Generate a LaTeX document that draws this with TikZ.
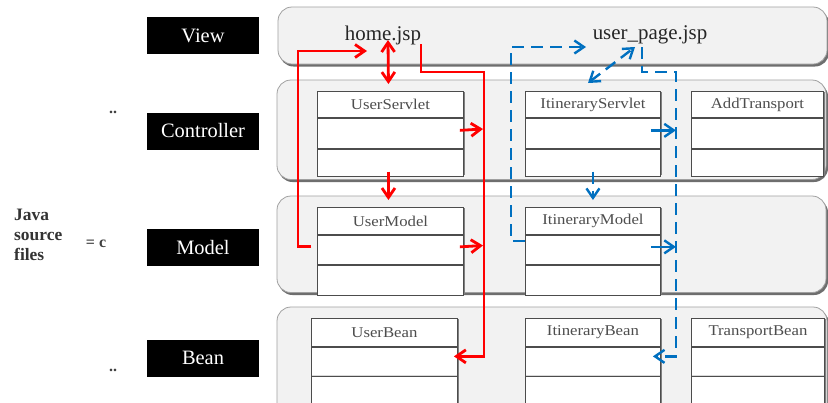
\documentclass[tikz,border=0pt]{standalone}
\usepackage{fontspec}
\setmainfont{Liberation Serif}
\newfontfamily\clsfont[FakeStretch=1.12]{Liberation Serif}
\usetikzlibrary{arrows.meta}
\definecolor{pbg}{HTML}{F2F2F2}
\definecolor{pshadow}{HTML}{6E6E6E}
\definecolor{pborder}{HTML}{A0A0A0}
\definecolor{blu}{HTML}{0070C0}
\definecolor{rd}{HTML}{FF0000}
\definecolor{clstext}{HTML}{4D4D4D}
\newcommand\clsbox[8]{%
  \fill[black!50] (#2+1.6,#3+1.2) rectangle ++(#4,#5+#6+#7);
  \node[cell, minimum width=#4bp, minimum height=#5bp] (#1T) at (#2,#3) {#8};
  \node[cell, minimum width=#4bp, minimum height=#6bp] (#1M) at (#1T.south west) {};
  \node[cell, minimum width=#4bp, minimum height=#7bp] (#1B) at (#1M.south west) {};
}
\begin{document}
\begin{tikzpicture}[x=1bp,y=-1bp,
  >={Straight Barb[length=9.5bp,width=13bp]},
  panel/.style={fill=pbg, draw=pborder, line width=0.8bp, rounded corners=14bp},
  pshad/.style={fill=pshadow, rounded corners=14bp},
  lbl/.style={fill=black, text=white, minimum width=112bp, minimum height=37bp, inner sep=0pt, font=\fontsize{20.5}{23}\selectfont},
  cell/.style={draw=black!70, fill=white, line width=0.9bp, anchor=north west, inner sep=0pt, text=clstext, font=\clsfont\fontsize{15}{17}\selectfont},
  jsp/.style={inner sep=1bp, text=black!85, font=\fontsize{21}{24}\selectfont},
  side/.style={inner sep=0pt, text=black!75, font=\bfseries\fontsize{16}{18}\selectfont},
  redline/.style={draw=rd, line width=2.8bp},
  blueline/.style={draw=blu, line width=2.4bp, dash pattern=on 12bp off 7bp},
]
\useasboundingbox (0,0) rectangle (828,402);
\clip (0,0) rectangle (828,402);
\fill[white] (0,0) rectangle (828,402);

% layer panels
\fill[pshad] (279.5,9.5) rectangle (829,66.5);
\draw[panel] (278,7) rectangle (827,64);
\fill[pshad] (278.5,82.5) rectangle (828,182);
\draw[panel] (277,80) rectangle (826,179.5);
\fill[pshad] (278.5,198.5) rectangle (828,295);
\draw[panel] (277,196) rectangle (826,292.5);
\fill[pshad] (278.5,309.5) rectangle (829,425);
\draw[panel] (277,307) rectangle (827,422);

% left labels
\node[lbl] (vL) at (203,35.5) {View};
\node[lbl] (cL) at (203,131) {Controller};
\node[lbl] (mL) at (203,247.5) {Model};
\node[lbl] (bL) at (203,358) {Bean};
\node[anchor=north west, inner sep=0pt, align=left, text=black!80,
      font=\bfseries\fontsize{17.5}{20}\selectfont] (java) at (14,209) {Java\\source\\files};
\node[side] (eqc) at (96,244) {= c};
\node[side] (dots1) at (113,112) {..};
\node[side] (dots2) at (113,370) {..};

% view texts
\node[jsp] (home) at (383,35) {home.jsp};
\node[jsp] (upage) at (650,35) {user\_page.jsp};

% class boxes
\clsbox{us}{317}{91}{146}{26}{30}{27}{UserServlet}
\clsbox{is}{525}{91}{135}{26}{30}{27}{ItineraryServlet}
\clsbox{at}{691}{91}{132}{26}{30}{27}{AddTransport}
\clsbox{um}{317}{207}{146}{27}{29}{30}{UserModel}
\clsbox{im}{525}{207}{135}{27}{29}{30}{ItineraryModel}
\clsbox{ub}{311}{318}{146}{28}{28}{40}{UserBean}
\clsbox{ib}{525}{318}{135}{28}{28}{40}{ItineraryBean}
\clsbox{tb}{691}{318}{133}{28}{28}{40}{TransportBean}
\foreach \b in {ub,ib,tb}{
  \draw[black!15, line width=1.2bp] ([xshift=0.8bp]\b M.south west) -- ([xshift=-0.8bp]\b M.south east);
}

% red connectors
\draw[redline,->] ([xshift=-6bp,yshift=3bp]umM.west) -| (298,51) -- (367,51);
\draw[redline,<->] (388,40) -- ([xshift=-2bp,yshift=7bp]usT.north);
\draw[redline,->] ([xshift=-2bp,yshift=5bp]usB.south) -- ([xshift=-2bp,yshift=7bp]umT.north);
\draw[redline,->] (421,44) |- (484,72) |- ([xshift=-4bp,yshift=5bp]ubM.east);
\draw[redline,->] ([xshift=-4bp,yshift=3bp]usM.east) -- (483,129);
\draw[redline,->] ([xshift=-4bp,yshift=3bp]umM.east) -- (483,245.5);

% blue connectors
\draw[blueline,->] ([yshift=9bp]imM.west) -| (511,47) -- (586,47);
\draw[blueline,<->] (588,83) -- (635,47);
\draw[blueline,->] (642,47) |- (676,72) |- ([xshift=-8bp,yshift=5bp]ibM.east);
\draw[blueline,solid,->] ([xshift=-10bp,yshift=3bp]isM.east) -- ++(25,0);
\draw[blueline,solid,->] ([xshift=-10bp,yshift=3bp]imM.east) -- ++(25,0);
\draw[blueline,->] ([yshift=5bp]isB.south) -- ([yshift=7bp]imT.north);
\end{tikzpicture}
\end{document}
